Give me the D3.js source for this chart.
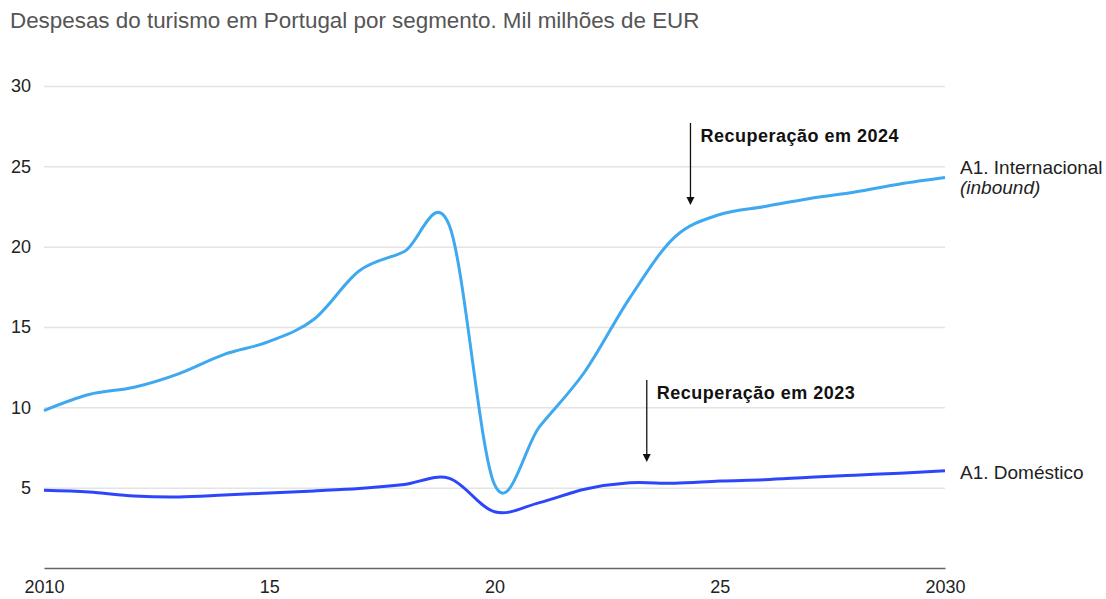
<!DOCTYPE html>
<html>
<head>
<meta charset="utf-8">
<script src="https://cdn.jsdelivr.net/npm/d3@7"></script>
<style>
    body { margin: 0; background: #fff; }
    svg text { font-family: "Liberation Sans", Arial, Helvetica, sans-serif; }
</style>
</head>
<body>
<svg id="chart" width="1106" height="599"></svg>
<script>
// data (Mil milhões de EUR)
const years = [2010, 2011, 2012, 2013, 2014, 2015, 2016, 2017, 2018, 2019, 2020,
    2021, 2022, 2023, 2024, 2025, 2026, 2027, 2028, 2029, 2030];
const internacional = [9.8, 10.8, 11.25, 12.1, 13.3, 14.1, 15.5, 18.5, 19.7, 21.3, 5.2,
    8.8, 12.2, 16.8, 20.6, 22.0, 22.5, 23.0, 23.4, 23.9, 24.3];
const domestico = [4.84, 4.73, 4.48, 4.42, 4.54, 4.67, 4.8, 4.95, 5.2, 5.58, 3.5,
    4.07, 4.9, 5.3, 5.27, 5.41, 5.5, 5.65, 5.78, 5.9, 6.05];
const yTicks = [5, 10, 15, 20, 25, 30];
const xTicks = [2010, 2015, 2020, 2025, 2030];
const xTickLabels = ["2010", "15", "20", "25", "2030"];

const title = "Despesas do turismo em Portugal por segmento. Mil milhões de EUR";

/** Line chart with two smoothed series and end labels. */
class TourismChart {

    constructor(svgId) {
        this.svg = d3.select(svgId);
        this.x = d3.scaleLinear().domain([2010, 2030]).range([44, 945]);
        this.y = d3.scaleLinear().domain([0, 30]).range([568, 86]);
    }

    draw() {
        this.drawTitle();
        this.drawAxes();
        this.drawLine(internacional, "#3ea8f0");
        this.drawLine(domestico, "#2d45fb");
        this.drawLabels();
        this.drawArrow(2024.35, 27.7, 22.6, "Recuperação em 2024");
        this.drawArrow(2023.38, 11.7, 6.6, "Recuperação em 2023");
    }

    drawTitle() {
        this.svg.append("text")
            .attr("x", 10)
            .attr("y", 28)
            .attr("fill", "#555")
            .style("font-size", "22.4px")
            .text(title);
    }

    drawAxes() {
        let x = this.x, y = this.y;

        // horizontal grid lines
        let grid = d3.axisLeft(y)
            .tickValues(yTicks)
            .tickSize(-(x.range()[1] - x.range()[0]))
            .tickFormat("");
        this.svg.append("g")
            .attr("transform", "translate(" + x.range()[0] + ",0)")
            .call(grid)
            .call(g => g.select(".domain").remove())
            .selectAll("line")
            .attr("stroke", "#e4e4e4")
            .attr("stroke-width", 1.5);

        // y labels
        this.svg.append("g")
            .selectAll("text")
            .data(yTicks)
            .join("text")
            .attr("x", 31)
            .attr("y", d => y(d))
            .attr("dy", "0.36em")
            .attr("text-anchor", "end")
            .attr("fill", "#222")
            .style("font-size", "18px")
            .text(d => d);

        // bottom axis
        let xAxis = d3.axisBottom(x)
            .tickValues(xTicks)
            .tickSize(0)
            .tickPadding(12)
            .tickFormat((d, i) => xTickLabels[i]);
        let gx = this.svg.append("g")
            .attr("transform", "translate(0," + y(0) + ")")
            .call(xAxis);
        gx.select(".domain")
            .attr("stroke", "#666")
            .attr("stroke-width", 1.5);
        gx.selectAll("text")
            .attr("fill", "#222")
            .style("font-size", "18px")
            .style("font-family", "'Liberation Sans', Arial, sans-serif");
    }

    drawLine(values, colour) {
        let x = this.x, y = this.y;
        let line = d3.line()
            .x((d, i) => x(years[i]))
            .y(d => y(d))
            .curve(d3.curveCardinal.tension(0));
        this.svg.append("path")
            .datum(values)
            .attr("d", line)
            .attr("fill", "none")
            .attr("stroke", colour)
            .attr("stroke-width", 3)
            .attr("stroke-linejoin", "round");
    }

    drawLabels() {
        let x = this.x, y = this.y;
        let lastI = years.length - 1;
        let lx = x(years[lastI]) + 15;

        let t = this.svg.append("text")
            .attr("x", lx)
            .attr("y", y(internacional[lastI]) - 4)
            .attr("fill", "#222")
            .style("font-size", "19px");
        t.append("tspan").text("A1. Internacional");
        t.append("tspan")
            .attr("x", lx)
            .attr("dy", "1.05em")
            .style("font-style", "italic")
            .text("(inbound)");

        this.svg.append("text")
            .attr("x", lx)
            .attr("y", y(domestico[lastI]) + 8)
            .attr("fill", "#222")
            .style("font-size", "19px")
            .text("A1. Doméstico");
    }

    drawArrow(year, fromVal, toVal, label) {
        let x = this.x, y = this.y;
        let ax = x(year);
        let y1 = y(fromVal), y2 = y(toVal);

        this.svg.append("line")
            .attr("x1", ax).attr("x2", ax)
            .attr("y1", y1).attr("y2", y2 - 6)
            .attr("stroke", "#111")
            .attr("stroke-width", 1.3);
        this.svg.append("path")
            .attr("d", "M" + (ax - 4) + "," + (y2 - 8) + " L" + (ax + 4) + "," + (y2 - 8) + " L" + ax + "," + y2 + "Z")
            .attr("fill", "#111");

        this.svg.append("text")
            .attr("x", ax + 10)
            .attr("y", y1 + 19)
            .attr("fill", "#111")
            .style("font-size", "18px")
            .style("letter-spacing", "0.5px")
            .style("font-weight", "bold")
            .text(label);
    }
}

let chart = new TourismChart("#chart");
chart.draw();
</script>
</body>
</html>
